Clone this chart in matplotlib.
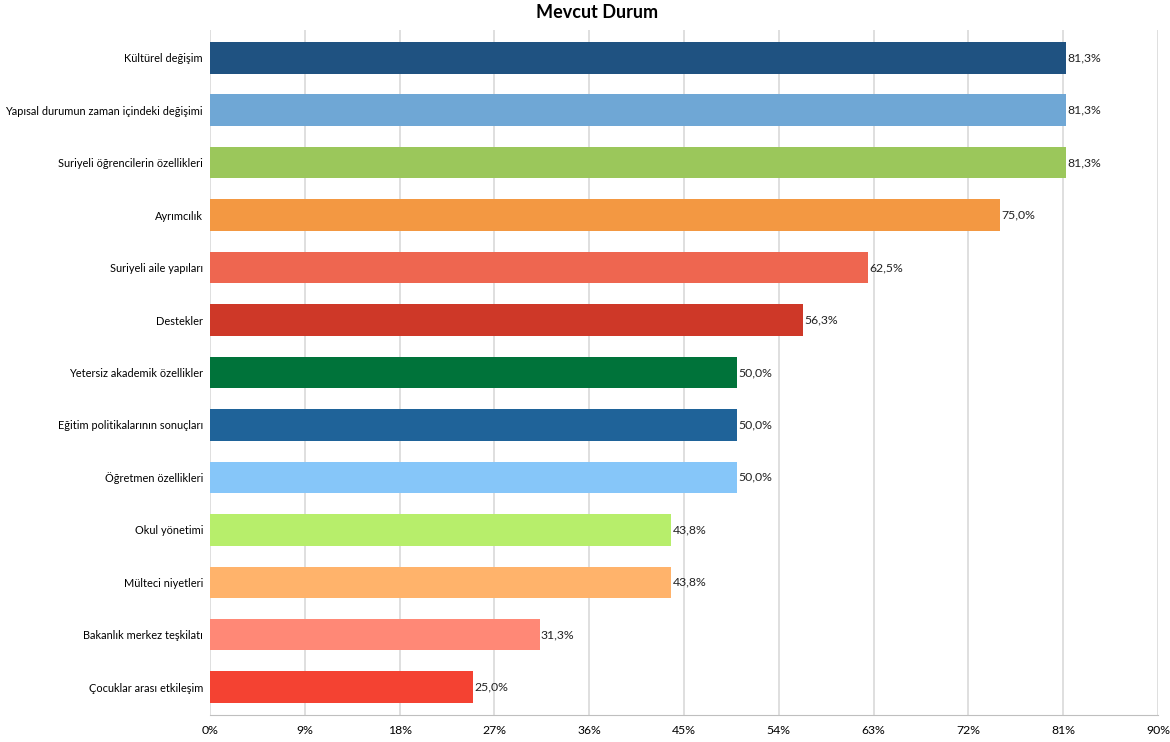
import matplotlib
matplotlib.use("Agg")
from matplotlib import pyplot as plt
import numpy as np

# data
categories = ["Kültürel değişim", "Yapısal durumun zaman içindeki değişimi",
              "Suriyeli öğrencilerin özellikleri", "Ayrımcılık",
              "Suriyeli aile yapıları", "Destekler", "Yetersiz akademik özellikler",
              "Eğitim politikalarının sonuçları", "Öğretmen özellikleri",
              "Okul yönetimi", "Mülteci niyetleri", "Bakanlık merkez teşkilatı",
              "Çocuklar arası etkileşim"]
values = [81.3, 81.3, 81.3, 75.0, 62.5, 56.3, 50.0, 50.0, 50.0, 43.8, 43.8, 31.3, 25.0]
colors = ["#1F5281", "#6FA7D5", "#9BC75B", "#F39842", "#EE6650", "#CE3828",
          "#00733A", "#1F6399", "#86C6F9", "#B7EE6B", "#FFB36B", "#FF8876", "#F44232"]
xticks = [0, 9, 18, 27, 36, 45, 54, 63, 72, 81, 90]

plt.rcParams['font.family'] = ['Lato', 'DejaVu Sans']

fig = plt.figure(figsize=(11.7, 7.42), dpi=100)
ax = fig.add_axes([0.1795, 0.0364, 0.8102, 0.9232])

y = np.arange(len(categories))
ax.barh(y, values, height=0.6, color=colors, zorder=2)
for yi, v in zip(y, values):
    ax.text(v + 0.12, yi, f"{v:.1f}%".replace(".", ","), va="center", ha="left",
            fontsize=8.8, color="#222222")

ax.set_yticks(y)
ax.set_yticklabels(categories, fontsize=7.9)
ax.set_ylim(len(categories) - 0.47, -0.53)
ax.set_xlim(0, 90)
ax.set_xticks(xticks)
ax.set_xticklabels([f"{t}%" for t in xticks], fontsize=8.8)
ax.tick_params(axis="y", length=0, pad=5)
ax.tick_params(axis="x", length=0, pad=7)
ax.grid(axis="x", color="#D9D9D9", linewidth=1.2, zorder=0)
for s in ["left", "top", "right"]:
    ax.spines[s].set_visible(False)
ax.spines["bottom"].set_color("#BFBFBF")

fig.suptitle("Mevcut Durum", x=0.51, y=0.995, fontsize=13, fontweight="bold")

fig.savefig("out.png", dpi=100)
